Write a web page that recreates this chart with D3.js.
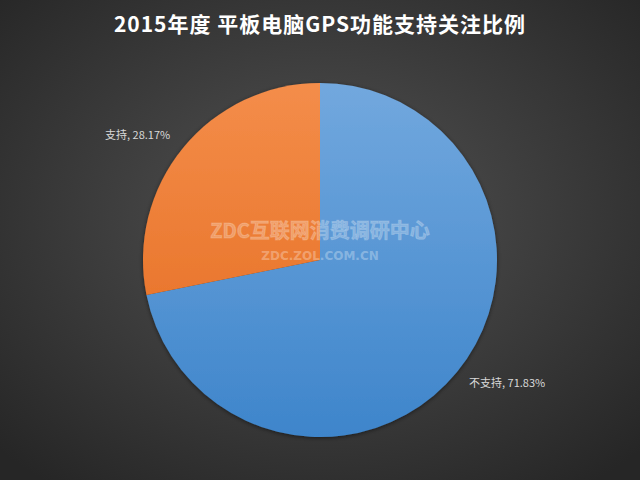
<!DOCTYPE html>
<html><head><meta charset="utf-8">
<script src="https://cdn.jsdelivr.net/npm/d3@7/dist/d3.min.js"></script>
<style>html,body{margin:0;padding:0;background:#333;}svg{display:block;}</style>
</head><body>
<svg id="c" width="640" height="480"></svg>
<script>
const categories = ["不支持", "支持"];
const values = [71.83, 28.17];
const labelTexts = ["不支持, 71.83%", "支持, 28.17%"];
const title = "2015年度 平板电脑GPS功能支持关注比例";

const W = 640, H = 480, cx = 320, cy = 260, R = 177;
const svg = d3.select("#c");
const defs = svg.append("defs");

const bg = defs.append("radialGradient").attr("id","bg").attr("cx","50%").attr("cy","45%").attr("r","70%");
bg.append("stop").attr("offset","0%").attr("stop-color","#535353");
bg.append("stop").attr("offset","100%").attr("stop-color","#262626");
svg.append("rect").attr("width",W).attr("height",H).attr("fill","url(#bg)");

const gradColors = [["#72a8de","#3e85cb"],["#f48d4a","#e3691c"]];
gradColors.forEach((c,i)=>{
  const g = defs.append("linearGradient").attr("id","g"+i)
    .attr("gradientUnits","userSpaceOnUse").attr("x1",0).attr("y1",-R).attr("x2",0).attr("y2",R);
  g.append("stop").attr("offset","0%").attr("stop-color",c[0]);
  g.append("stop").attr("offset","100%").attr("stop-color",c[1]);
});
const sh = defs.append("filter").attr("id","sh").attr("x","-20%").attr("y","-20%").attr("width","140%").attr("height","140%");
sh.append("feDropShadow").attr("dx",0).attr("dy",1).attr("stdDeviation",2).attr("flood-color","#000").attr("flood-opacity",0.5);

svg.append("text").attr("x",cx).attr("y",32).attr("text-anchor","middle")
  .attr("font-family","'Noto Sans CJK SC', sans-serif").attr("font-weight","bold")
  .attr("font-size",21).attr("letter-spacing",1).attr("fill","#ffffff").text(title);

const pie = d3.pie().sort(null).value(d=>d)(values);
const arc = d3.arc().innerRadius(0).outerRadius(R);
const g = svg.append("g").attr("transform",`translate(${cx},${cy})`);
g.append("g").attr("filter","url(#sh)").selectAll("path").data(pie).join("path")
  .attr("d",arc).attr("fill",(d,i)=>`url(#g${i})`);

// labels
const labelPos = [[469,387,"start"],[105,139,"start"]];
svg.selectAll("text.lbl").data(pie).join("text").attr("class","lbl")
  .attr("x",(d,i)=>labelPos[i][0]).attr("y",(d,i)=>labelPos[i][1])
  .attr("text-anchor",(d,i)=>labelPos[i][2])
  .attr("font-family","'Noto Sans CJK SC', sans-serif").attr("font-size",11)
  .attr("fill","#d9d9d9").text((d,i)=>labelTexts[i]);

// watermark
svg.append("text").attr("x",cx).attr("y",238).attr("text-anchor","middle")
  .attr("font-family","'Noto Sans CJK SC', sans-serif").attr("font-weight","bold")
  .attr("font-size",20).attr("fill","#ffffff").attr("fill-opacity",0.25)
  .attr("stroke","#ffffff").attr("stroke-opacity",0.2).attr("stroke-width",1)
  .text("ZDC互联网消费调研中心");
svg.append("text").attr("x",cx).attr("y",260).attr("text-anchor","middle")
  .attr("font-family","'DejaVu Sans', sans-serif").attr("font-weight","bold")
  .attr("font-size",12).attr("fill","#ffffff").attr("fill-opacity",0.3)
  .text("ZDC.ZOL.COM.CN");
</script>
</body></html>
